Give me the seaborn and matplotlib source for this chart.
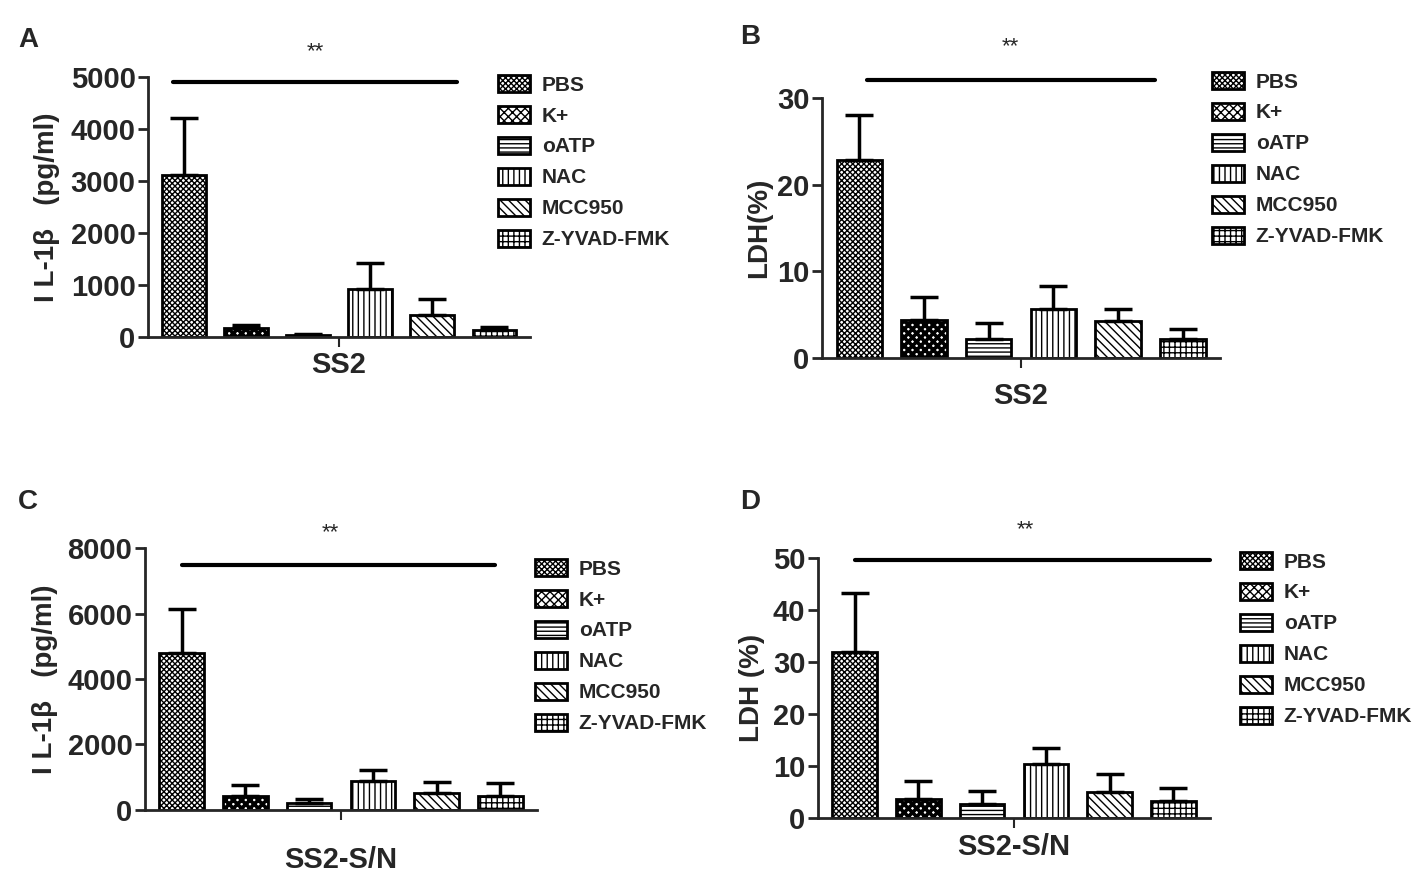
import numpy as np
import pandas as pd
import seaborn as sns
import matplotlib.pyplot as plt
from matplotlib.lines import Line2D

# treatment groups, same in every panel
treatments = ['PBS', 'K+', 'oATP', 'NAC', 'MCC950', 'Z-YVAD-FMK']
hatches = ['xxxxxx', 'xxxx', '----', '|||', '\\\\\\\\', '+++']
hatch_lw = [1.0, 2.6, 1.0, 1.0, 1.0, 1.0]

# values (mean, upper SEM)
il1b_ss2 = [3120, 170, 30, 930, 420, 135]
il1b_ss2_err = [1090, 60, 20, 490, 310, 65]
ldh_ss2 = [22.8, 4.4, 2.2, 5.6, 4.3, 2.2]
ldh_ss2_err = [5.2, 2.6, 1.8, 2.7, 1.4, 1.1]
il1b_sn = [4790, 430, 220, 880, 530, 430]
il1b_sn_err = [1360, 330, 120, 340, 330, 390]
ldh_sn = [32.0, 3.6, 2.7, 10.4, 5.1, 3.2]
ldh_sn_err = [11.3, 3.5, 2.5, 3.0, 3.3, 2.5]

sns.set_style('ticks')
plt.rcParams['font.family'] = ['Liberation Sans', 'DejaVu Sans']
plt.rcParams['hatch.linewidth'] = 1.0

fig = plt.figure(figsize=(14.21, 8.75), dpi=100)

panels = [
    dict(letter='A', rect=[0.1042, 0.6149, 0.2688, 0.2971], group='SS2',
         mean=il1b_ss2, err=il1b_ss2_err, ylim=5000, yticks=[0, 1000, 2000, 3000, 4000, 5000],
         ylabel='I L-1β   (pg/ml)', ylab_x=-0.23, xpad=3,
         sig=(0.065, 0.81, 0.981), star=(0.437, 1.096), leg=(498, 75), letter_xy=(18, 40)),
    dict(letter='B', rect=[0.5785, 0.5909, 0.2801, 0.2971], group='SS2',
         mean=ldh_ss2, err=ldh_ss2_err, ylim=30, yticks=[0, 10, 20, 30],
         ylabel='LDH(%)', ylab_x=-0.125, xpad=10,
         sig=(0.113, 0.837, 1.069), star=(0.472, 1.196), leg=(1212, 72), letter_xy=(740, 37)),
    dict(letter='C', rect=[0.1020, 0.0743, 0.2759, 0.2994], group='SS2-S/N',
         mean=il1b_sn, err=il1b_sn_err, ylim=8000, yticks=[0, 2000, 4000, 6000, 8000],
         ylabel='I L-1β   (pg/ml)', ylab_x=-0.222, xpad=19,
         sig=(0.094, 0.893, 0.935), star=(0.472, 1.057), leg=(535, 559), letter_xy=(18, 502)),
    dict(letter='D', rect=[0.5756, 0.0651, 0.2759, 0.2971], group='SS2-S/N',
         mean=ldh_sn, err=ldh_sn_err, ylim=50, yticks=[0, 10, 20, 30, 40, 50],
         ylabel='LDH (%)', ylab_x=-0.135, xpad=4,
         sig=(0.094, 1.0, 0.992), star=(0.528, 1.108), leg=(1240, 552), letter_xy=(740, 502)),
]

W, H = 1421, 875

for p in panels:
    ax = fig.add_axes(p['rect'])
    df = pd.DataFrame({'group': [p['group']] * len(treatments),
                       'treatment': treatments,
                       'value': p['mean']})
    sns.barplot(data=df, x='group', y='value', hue='treatment', hue_order=treatments,
                palette=['white'] * len(treatments), errorbar=None, gap=0.3,
                width=0.8, edgecolor='black', linewidth=2, legend=False, ax=ax)

    bars = list(ax.containers)
    handles = []
    for cont, h, hl, m, e in zip(bars, hatches, hatch_lw, p['mean'], p['err']):
        patch = cont.patches[0]
        patch.set_hatch(h)
        if hasattr(patch, 'set_hatch_linewidth'):
            patch.set_hatch_linewidth(hl)
        patch.set_edgecolor('black')
        handles.append(patch)
        xc = patch.get_x() + patch.get_width() / 2
        ax.errorbar([xc], [m], yerr=[[0], [e]], fmt='none', ecolor='black',
                    elinewidth=2.5, capsize=10, capthick=2.5, zorder=1)

    ax.set_xlim(-0.41, 0.41)
    ax.set_ylim(0, p['ylim'])
    ax.set_yticks(p['yticks'])
    ax.set_xlabel('')
    ax.set_ylabel(p['ylabel'], fontsize=20, fontweight='bold')
    ax.yaxis.set_label_coords(p['ylab_x'], 0.5)
    for s in ['top', 'right']:
        ax.spines[s].set_visible(False)
    for s in ['left', 'bottom']:
        ax.spines[s].set_linewidth(2)
    ax.tick_params(axis='y', length=7, width=2, direction='out', pad=2, labelsize=21)
    ax.tick_params(axis='x', length=7, width=1.5, direction='out', pad=p['xpad'], labelsize=21)
    for t in ax.get_xticklabels() + ax.get_yticklabels():
        t.set_fontweight('bold')

    # significance bar
    x0, x1, ys = p['sig']
    ax.add_line(Line2D([x0, x1], [ys, ys], transform=ax.transAxes, color='black',
                       linewidth=3, clip_on=False))
    ax.text(p['star'][0], p['star'][1], '**', transform=ax.transAxes,
            ha='center', va='center', fontsize=16)

    lx, ly = p['leg']
    leg = ax.legend(handles=handles, labels=treatments, loc='upper left',
                    bbox_to_anchor=(lx / W, 1 - ly / H), bbox_transform=fig.transFigure,
                    frameon=False, prop={'weight': 'bold', 'size': 15},
                    handlelength=1.55, handleheight=0.85, handletextpad=0.55,
                    labelspacing=0.55, borderpad=0, borderaxespad=0)

    fig.text(p['letter_xy'][0] / W, 1 - p['letter_xy'][1] / H, p['letter'],
             fontsize=20, fontweight='bold', ha='left', va='center')

fig.savefig('out.png', dpi=100)
